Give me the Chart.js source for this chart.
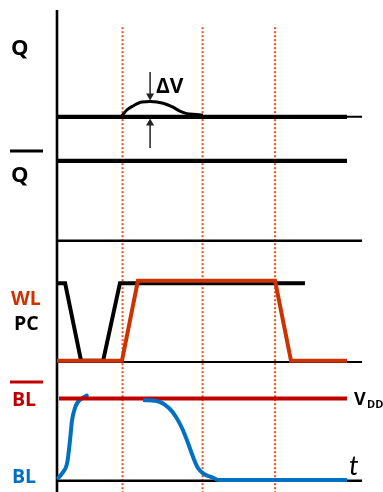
<!DOCTYPE html>
<html>
<head>
<meta charset="utf-8">
<script src="https://cdn.jsdelivr.net/npm/chart.js@4/dist/chart.umd.min.js"></script>
<style>
html,body{margin:0;padding:0;background:#fff;}
#wrap{width:383px;height:492px;position:relative;}
</style>
</head>
<body>
<div id="wrap"><canvas id="c"></canvas></div>
<script>
// ---- time (ns-like units) and voltage levels (VDD = 1 per trace) ----
const markerTimes = [2.26, 5.02, 7.52];          // red dotted time markers
const markerTop = 5.66;

const qTime = [0, 10];
const qLevel = [4.54, 4.54];
const bumpTime  = [2.21, 2.41, 2.62, 2.93, 3.21, 3.66, 4.0, 4.24, 4.48, 4.83, 5.03];
const bumpLevel = [4.54, 4.625, 4.675, 4.725, 4.73, 4.71, 4.66, 4.61, 4.58, 4.57, 4.56];
const qbarTime = [0, 10];
const qbarLevel = [3.99, 3.99];

const pcTime  = [0, 0.28, 0.83, 1.59, 2.17, 8.55];
const pcLevel = [2.46, 2.46, 1.49, 1.49, 2.46, 2.46];
const wlTime  = [0, 2.24, 2.79, 7.52, 8.07, 10];
const wlLevel = [1.49, 1.49, 2.49, 2.49, 1.49, 1.49];

const blbTime = [0.07, 10];
const blbLevel = [1.02, 1.02];
const blRiseTime  = [0.045, 0.21, 0.35, 0.45, 0.52, 0.62, 0.72, 0.9, 1.03];
const blRiseLevel = [0.025, 0.1, 0.21, 0.5, 0.75, 0.9, 0.975, 1.03, 1.055];
const blFallTime  = [2.97, 3.55, 3.86, 4.1, 4.34, 4.52, 4.69, 4.86, 5.07, 5.41, 5.55, 10];
const blFallLevel = [1.0, 0.975, 0.9, 0.79, 0.625, 0.46, 0.29, 0.15, 0.075, 0.025, 0.0, 0.0];

const axisTime = [0, 0];
const axisLevel = [-0.15, 5.875];
const baseTime = [0, 10.52];
const qBase = 4.54, dividerLevel = 2.99, wlBase = 1.475, blBase = -0.01;

const deltaVTime = 3.21;

// ---- build datasets ----
const pts = (xs, ys) => xs.map((x, i) => ({x: x, y: ys[i]}));
const datasets = [];
function add(xs, ys, color, width, extra) {
  datasets.push(Object.assign({
    data: pts(xs, ys), showLine: true, borderColor: color, borderWidth: width,
    pointRadius: 0, fill: false, tension: 0, borderCapStyle: 'butt', borderJoinStyle: 'miter'
  }, extra || {}));
}
markerTimes.forEach(t => add([t, t], [markerTop, -0.2], '#e8501c', 2, {borderDash: [2, 2]}));
add(axisTime, axisLevel, '#000', 2.6);
add(baseTime, [qBase, qBase], '#000', 2);
add(baseTime, [dividerLevel, dividerLevel], '#000', 2.5);
add(baseTime, [wlBase, wlBase], '#000', 2);
add(baseTime, [blBase, blBase], '#000', 2.5);
add(qTime, qLevel, '#000', 4.3);
add(bumpTime, bumpLevel, '#000', 3, {cubicInterpolationMode: 'monotone'});
add(qbarTime, qbarLevel, '#000', 4.3);
add(pcTime, pcLevel, '#000', 4);
add(wlTime, wlLevel, '#cc3300', 4);
add(blRiseTime, blRiseLevel, '#0070c0', 4, {cubicInterpolationMode: 'monotone', borderCapStyle: 'round'});
add(blbTime, blbLevel, '#c00000', 4);
add(blFallTime, blFallLevel, '#0070c0', 4, {cubicInterpolationMode: 'monotone'});
const N = datasets.length;
datasets.forEach((d, i) => d.order = N - i);

const labels = {
  id: 'labels',
  afterDraw(chart) {
    const ctx = chart.ctx, xs = chart.scales.x, ys = chart.scales.y;
    ctx.save();
    // Delta V arrows
    const ax = xs.getPixelForValue(deltaVTime);
    ctx.strokeStyle = '#222'; ctx.fillStyle = '#222'; ctx.lineWidth = 1.5;
    function arrow(fromV, toV) {
      const y0 = ys.getPixelForValue(fromV), y1 = ys.getPixelForValue(toV);
      const dir = Math.sign(y1 - y0);
      ctx.beginPath(); ctx.moveTo(ax, y0); ctx.lineTo(ax, y1 - dir * 5); ctx.stroke();
      ctx.beginPath(); ctx.moveTo(ax, y1); ctx.lineTo(ax - 4, y1 - dir * 7); ctx.lineTo(ax + 4, y1 - dir * 7); ctx.closePath(); ctx.fill();
    }
    arrow(5.1, 4.745);
    arrow(4.15, 4.52);

    ctx.textBaseline = 'alphabetic';
    ctx.textAlign = 'left';
    const bold = s => 'bold ' + s + 'px "Open Sans", sans-serif';
    ctx.fillStyle = '#000';
    ctx.font = bold(21);
    ctx.fillText('ΔV', 156, 93);
    ctx.font = bold(22);
    ctx.fillText('Q', 11, 55);
    ctx.fillRect(10, 149.5, 33, 3);
    ctx.fillText('Q', 11, 182);
    ctx.font = bold(19.5);
    ctx.fillStyle = '#cc3300';
    ctx.fillText('WL', 11, 305);
    ctx.fillStyle = '#000';
    ctx.fillText('PC', 14, 330);
    ctx.fillStyle = '#c00000';
    ctx.fillRect(10, 380.5, 33, 3);
    ctx.fillText('BL', 12, 406);
    ctx.fillStyle = '#0070c0';
    ctx.fillText('BL', 12, 483);
    ctx.fillStyle = '#000';
    ctx.font = bold(18);
    ctx.fillText('V', 354, 405);
    ctx.font = bold(11);
    ctx.fillText('DD', 367, 408);
    ctx.font = 'italic 27px Lato, "Open Sans", sans-serif';
    ctx.fillText('t', 349, 475);
    ctx.restore();
  }
};

new Chart(document.getElementById('c'), {
  type: 'scatter',
  data: {datasets: datasets},
  options: {
    responsive: true, maintainAspectRatio: false, animation: false,
    layout: {padding: 0},
    plugins: {legend: {display: false}, tooltip: {enabled: false}},
    scales: {
      x: {type: 'linear', display: false, min: -57 / 29, max: 326 / 29},
      y: {type: 'linear', display: false, min: -0.15, max: 6.0}
    }
  },
  plugins: [labels]
});
</script>
</body>
</html>
